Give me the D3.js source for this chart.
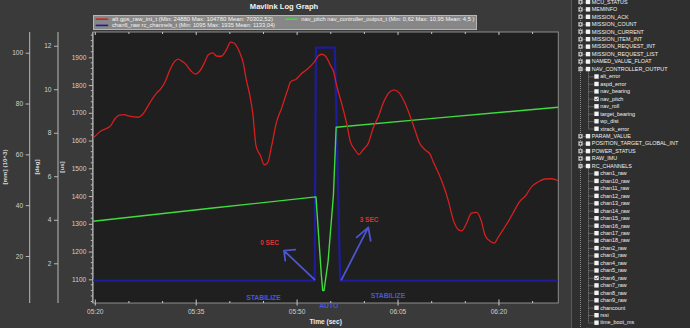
<!DOCTYPE html>
<html>
<head>
<meta charset="utf-8">
<title>Mavlink Log Graph</title>
<script src="https://cdn.jsdelivr.net/npm/d3@7"></script>
<style>
	body{margin:0;background:#3a3a3a;overflow:hidden;}
	svg{display:block;font-family:"Liberation Sans",Arial,sans-serif;}
</style>
</head>
<body>
<div id="graph-box"></div>
<script>
// time is seconds into the log (05:20 = 320)
const altTime=[319.7,320.9,321.6,322.3,322.9,323.6,324.3,325.1,326.4,327.1,327.8,328.3,329.1,329.7,330.4,331.1,331.8,332.3,332.9,333.4,334.2,334.9,335.5,336.2,336.8,337.5,338.0,338.7,339.5,340.1,340.6,341.5,342.0,342.4,343.0,343.4,343.9,344.6,345.1,345.6,346.2,346.9,347.7,348.6,349.0,349.9,350.6,351.4,352.1,352.7,353.2,353.7,354.3,354.9,355.4,355.9,356.6,357.4,357.9,358.6,359.2,359.8,360.6,361.3,362.1,362.8,363.6,364.4,365.2,365.9,366.8,367.5,368.2,369.0,369.8,370.2,371.0,371.7,372.5,373.2,374.0,374.5,375.2,375.9,376.7,377.4,377.9,378.7,379.3,379.9,380.6,381.4,382.1,383.1,383.9,384.9,385.8,386.8,387.8,388.8];
// alt in mm x 10^3
const altValue=[66.4,69.3,70.1,71.3,73.9,75.4,75.6,75.0,74.6,75.9,78.9,81.1,84.1,85.7,88.7,93.3,96.6,97.5,96.6,95.6,92.9,91.6,92.7,95.9,99.2,99.9,98.7,98.6,101.2,104.2,103.8,99.9,95.9,90.0,82.8,76.3,63.2,59.2,55.9,56.6,63.2,72.3,78.2,85.4,88.4,89.7,91.6,93.3,95.0,96.9,98.9,99.4,98.4,95.3,92.7,86.8,80.2,71.7,65.1,61.8,59.9,61.8,64.5,70.4,75.0,80.2,84.1,85.4,84.1,80.9,75.0,69.7,64.5,61.8,59.9,57.3,52.7,48.1,41.5,34.3,30.3,29.9,33.0,36.9,37.2,33.6,28.4,25.8,25.1,27.4,30.3,33.6,36.9,41.5,43.5,47.4,49.1,50.3,50.4,49.6];

// nav_pitch in deg
const pitchTime=[319.7,337.5,352.8,353.6,353.8,354.0,354.6,355.4,355.8,369.8,388.8];
const pitchValue=[3.93,4.54,5.05,1.46,0.75,0.75,2.09,5.15,8.25,8.65,9.17];

// chan6_raw in us
const chanTime=[319.7,352.6,352.8,355.6,356.4,388.8];
const chanValue=[1095,1095,1935,1935,1095,1095];

const timeMajor=[320,335,350,365,380];
const altTicks=[20,40,60,80,100];
const degTicks=[2,4,6,8,10,12];
const usTicks=[1100,1200,1300,1400,1500,1600,1700,1800,1900];

const legendNames=["alt gps_raw_int_t (Min: 24880 Max: 104780 Mean: 70302,52)","nav_pitch nav_controller_output_t (Min: 0,62 Max: 10,95 Mean: 4,5 )","chan6_raw rc_channels_t (Min: 1095 Max: 1935 Mean: 1133,04)"];
const seriesColors=["#d61f1f","#3fdc3f","#1d1d9c"];

// hand written notes, placed in time / us units
const noteText=["0 SEC","3 SEC","STABILIZE","AUTO","STABILIZE"];
const noteTime=[345.9,360.7,345.0,354.7,363.5];
const noteUs=[1231,1315,1035,1004,1041];
const arrowTime=[[352.6,348.05,349.73,348.05,348.24],[356.6,360.58,358.85,360.58,360.93]];
const arrowUs=[[1099,1203,1207,1203,1167],[1099,1287,1251,1287,1239]];

// tree on the right
const treeLabels=["MCU_STATUS","MEMINFO","MISSION_ACK","MISSION_COUNT","MISSION_CURRENT","MISSION_ITEM_INT","MISSION_REQUEST_INT","MISSION_REQUEST_LIST","NAMED_VALUE_FLOAT","NAV_CONTROLLER_OUTPUT","alt_error","aspd_error","nav_bearing","nav_pitch","nav_roll","target_bearing","wp_dist","xtrack_error","PARAM_VALUE","POSITION_TARGET_GLOBAL_INT","POWER_STATUS","RAW_IMU","RC_CHANNELS","chan1_raw","chan10_raw","chan11_raw","chan12_raw","chan13_raw","chan14_raw","chan15_raw","chan16_raw","chan17_raw","chan18_raw","chan2_raw","chan3_raw","chan4_raw","chan5_raw","chan6_raw","chan7_raw","chan8_raw","chan9_raw","chancount","rssi","time_boot_ms"];
const treeOpen=["NAV_CONTROLLER_OUTPUT","RC_CHANNELS"];
const treeChecked=["nav_pitch","chan6_raw"];

const graph=
{
	draw: function ()
	{
		const W=690, H=328;
		const left=93, right=558.3, top=32, bottom=303;
		const svg=d3.select("#graph-box")
		.append("svg")
		.attr("width",W)
		.attr("height",H);
		svg.append("rect").attr("width",W).attr("height",H).attr("fill","#3a3a3a");

		//Scales
		const xScale=d3.scaleLinear().domain([319.66,388.82]).range([left,right]);
		const yAlt=d3.scaleLinear().domain([1.5,108.15]).range([bottom,top]);
		const yDeg=d3.scaleLinear().domain([0.175,12.63]).range([bottom,top]);
		const yUs=d3.scaleLinear().domain([1014.6,1991.2]).range([bottom,top]);

		//Plot area
		svg.append("rect")
		.attr("x",left).attr("y",top)
		.attr("width",right-left).attr("height",bottom-top)
		.attr("fill","#1f1f1f")
		.attr("stroke","#8d8d8d");

		svg.append("clipPath").attr("id","plot-clip")
		.append("rect").attr("x",left).attr("y",top).attr("width",right-left).attr("height",bottom-top);

		//Title
		svg.append("text")
		.attr("x",284).attr("y",8.7)
		.attr("text-anchor","middle")
		.attr("font-size","7.6px").attr("font-weight","bold")
		.attr("fill","#f2f2f2")
		.text("Mavlink Log Graph");

		this.drawYAxis(svg,yAlt,altTicks,29.7,null,"[mm] (10^3)",5);
		this.drawYAxis(svg,yDeg,degTicks,58,null,"[deg]",36.8);
		this.drawYAxis(svg,yUs,usTicks,92.8,d3.range(1020,1991,20),"[us]",62);
		this.drawXAxis(svg,xScale,top,bottom);

		//Series
		const plot=svg.append("g").attr("clip-path","url(#plot-clip)");
		const series=[
			{t:chanTime,v:chanValue,y:yUs,w:2.2},
			{t:pitchTime,v:pitchValue,y:yDeg,w:1.4},
			{t:altTime,v:altValue,y:yAlt,w:1.3}
		];
		const colIndex=[2,1,0];
		series.forEach((s,k)=>
		{
			const pts=s.t.map((t,i)=>[t,s.v[i]]);
			const line=d3.line()
			.x((d)=> xScale(d[0]))
			.y((d)=> s.y(d[1]))
			.curve(k==2 ? d3.curveMonotoneX : d3.curveLinear);
			plot.append("path")
			.attr("d",line(pts))
			.attr("fill","none")
			.attr("stroke",seriesColors[colIndex[k]])
			.attr("stroke-width",s.w)
			.attr("stroke-linejoin","round");
		});

		this.drawLegend(svg);
		this.drawNotes(svg,xScale,yUs);
		this.drawTree(svg);
	},
	drawYAxis: function (svg,scale,ticks,x,minor,title,titleX)
	{
		const axis=d3.axisLeft(scale).tickValues(ticks).tickSize(4).tickPadding(2.5).tickFormat(d3.format("d"));
		const g=svg.append("g")
		.attr("transform","translate("+x+",0)")
		.call(axis);
		g.select(".domain").attr("d","M0,32V303").attr("stroke","#b8b8b8");
		g.selectAll(".tick line").attr("stroke","#b8b8b8");
		g.selectAll(".tick text")
		.attr("fill","#cfcfcf")
		.attr("font-size","6.6px")
		.attr("font-family","Liberation Sans, Arial, sans-serif");
		if (minor)
		{
			g.selectAll(".minor")
			.data(minor.filter((d)=> d%100!=0))
			.enter().append("line")
			.attr("x1",-2).attr("x2",0)
			.attr("y1",(d)=> scale(d)).attr("y2",(d)=> scale(d))
			.attr("stroke","#b8b8b8");
		}
		svg.append("text")
		.attr("transform","translate("+titleX+",167) rotate(-90)")
		.attr("text-anchor","middle")
		.attr("dy","0.35em")
		.attr("font-size","6.2px").attr("font-weight","bold")
		.attr("fill","#d8d8d8")
		.text(title);
	},
	drawXAxis: function (svg,xScale,top,bottom)
	{
		const fmt=d3.format("02");
		const minorTicks=d3.range(320,389,5);
		const g=svg.append("g");
		g.selectAll(".xmin")
		.data(minorTicks)
		.enter().append("g")
		.each(function (d)
		{
			const major=timeMajor.includes(d);
			const x=xScale(d);
			d3.select(this).append("line")
			.attr("x1",x).attr("x2",x)
			.attr("y1",bottom-(major ? 3.5 : 2)).attr("y2",bottom+(major ? 2.5 : 0))
			.attr("stroke","#c8c8c8");
			d3.select(this).append("line")
			.attr("x1",x).attr("x2",x)
			.attr("y1",top).attr("y2",top+(major ? 3 : 2))
			.attr("stroke","#c8c8c8");
		});
		g.selectAll(".xlab")
		.data(timeMajor)
		.enter().append("text")
		.attr("x",(d)=> xScale(d))
		.attr("y",314)
		.attr("text-anchor","middle")
		.attr("font-size","6.6px")
		.attr("fill","#cfcfcf")
		.text((d)=> fmt(Math.floor(d/60))+":"+fmt(d%60));
		svg.append("text")
		.attr("x",(xScale.range()[0]+xScale.range()[1])/2)
		.attr("y",324.4)
		.attr("text-anchor","middle")
		.attr("font-size","6.6px").attr("font-weight","bold")
		.attr("fill","#eeeeee")
		.text("Time (sec)");
	},
	drawLegend: function (svg)
	{
		svg.append("rect")
		.attr("x",93.5).attr("y",15.5)
		.attr("width",383).attr("height",14)
		.attr("fill","#878787")
		.attr("stroke","#b5b5b5");
		//position of each entry: x of sample line, row
		const entryX=[95.7,285,95.7];
		const entryY=[19.2,19.2,25.4];
		const textLen=[161,173,163];
		legendNames.forEach((name,i)=>
		{
			svg.append("line")
			.attr("x1",entryX[i]).attr("x2",entryX[i]+12.5)
			.attr("y1",entryY[i]).attr("y2",entryY[i])
			.attr("stroke",seriesColors[i]).attr("stroke-width",1.6);
			svg.append("text")
			.attr("x",entryX[i]+16.3).attr("y",entryY[i]+2)
			.attr("font-size","5.6px")
			.attr("fill","#f4f4f4")
			.attr("textLength",textLen[i])
			.attr("lengthAdjust","spacingAndGlyphs")
			.text(name);
		});
	},
	drawNotes: function (svg,xScale,yUs)
	{
		const noteColor=["#dc3434","#dc3434","#4b57d6","#4b57d6","#4b57d6"];
		noteText.forEach((txt,i)=>
		{
			svg.append("text")
			.attr("x",xScale(noteTime[i])).attr("y",yUs(noteUs[i]))
			.attr("dy","0.35em")
			.attr("text-anchor","middle")
			.attr("font-size",i<2 ? "6.5px" : "6.8px").attr("font-weight","bold")
			.attr("fill",noteColor[i])
			.text(txt);
		});
		arrowTime.forEach((ts,k)=>
		{
			const p=ts.map((t,i)=>[xScale(t),yUs(arrowUs[k][i])]);
			svg.append("path")
			.attr("d","M"+p[0]+"L"+p[1]+"M"+p[2]+"L"+p[3]+"L"+p[4])
			.attr("fill","none")
			.attr("stroke","#4b55d2")
			.attr("stroke-width",1.8)
			.attr("stroke-linecap","round")
			.attr("stroke-linejoin","round");
		});
	},
	drawTree: function (svg)
	{
		const x0=571;
		svg.append("rect").attr("x",x0).attr("y",0).attr("width",690-x0).attr("height",328).attr("fill","#2f2f2f");
		svg.append("line").attr("x1",x0+0.5).attr("x2",x0+0.5).attr("y1",0).attr("y2",328).attr("stroke","#5a5a5a");
		const rowH=7.46, y0=1.7;
		const isChild=(d)=> d[0]===d[0].toLowerCase();
		const g=svg.append("g");
		//dotted tree lines
		g.append("line").attr("x1",580.5).attr("x2",580.5).attr("y1",0).attr("y2",328)
		.attr("stroke","#8a8a8a").attr("stroke-dasharray","1,1");
		treeOpen.forEach((name)=>
		{
			const p=treeLabels.indexOf(name);
			let last=p;
			while (last+1<treeLabels.length && isChild(treeLabels[last+1])) last++;
			g.append("line").attr("x1",588.5).attr("x2",588.5)
			.attr("y1",y0+p*rowH+2.5).attr("y2",y0+last*rowH)
			.attr("stroke","#8a8a8a").attr("stroke-dasharray","1,1");
		});
		treeLabels.forEach((name,i)=>
		{
			const cy=y0+i*rowH;
			const child=isChild(name);
			if (child)
			{
				g.append("line").attr("x1",588.5).attr("x2",594).attr("y1",cy+0.5).attr("y2",cy+0.5)
				.attr("stroke","#8a8a8a").attr("stroke-dasharray","1,1");
			}
			else
			{
				g.append("line").attr("x1",580.5).attr("x2",585.5).attr("y1",cy+0.5).attr("y2",cy+0.5)
				.attr("stroke","#8a8a8a").attr("stroke-dasharray","1,1");
				g.append("rect").attr("x",578.5).attr("y",cy-1.8).attr("width",4).attr("height",4)
				.attr("fill","#cfcfcf").attr("stroke","#9a9a9a").attr("stroke-width",0.5);
				g.append("line").attr("x1",579.3).attr("x2",581.7).attr("y1",cy+0.2).attr("y2",cy+0.2)
				.attr("stroke","#222").attr("stroke-width",0.7);
				if (!treeOpen.includes(name))
				{
					g.append("line").attr("x1",580.5).attr("x2",580.5).attr("y1",cy-1).attr("y2",cy+1.4)
					.attr("stroke","#222").attr("stroke-width",0.7);
				}
			}
			const bx=child ? 594.3 : 585.8;
			g.append("rect").attr("x",bx).attr("y",cy-2).attr("width",4.4).attr("height",4.4)
			.attr("fill","#f3f3f3");
			if (treeChecked.includes(name))
			{
				g.append("path")
				.attr("d","M"+(bx+0.8)+","+(cy+0.2)+"l1.2,1.3l1.8,-2.6")
				.attr("fill","none").attr("stroke","#444").attr("stroke-width",0.8);
			}
			g.append("text")
			.attr("x",bx+6).attr("y",cy+2)
			.attr("font-size","5.4px")
			.attr("fill","#f0f0f0")
			.text(name);
		});
		//next group, only its top shows at the bottom edge
		const cy=y0+treeLabels.length*rowH;
		g.append("rect").attr("x",578.5).attr("y",cy-1.8).attr("width",4).attr("height",4).attr("fill","#cfcfcf");
		g.append("rect").attr("x",585.8).attr("y",cy-2).attr("width",4.4).attr("height",4.4).attr("fill","#f3f3f3");
	}
};

document.addEventListener("DOMContentLoaded", function(event)
{
	graph.draw();
});
</script>
</body>
</html>
